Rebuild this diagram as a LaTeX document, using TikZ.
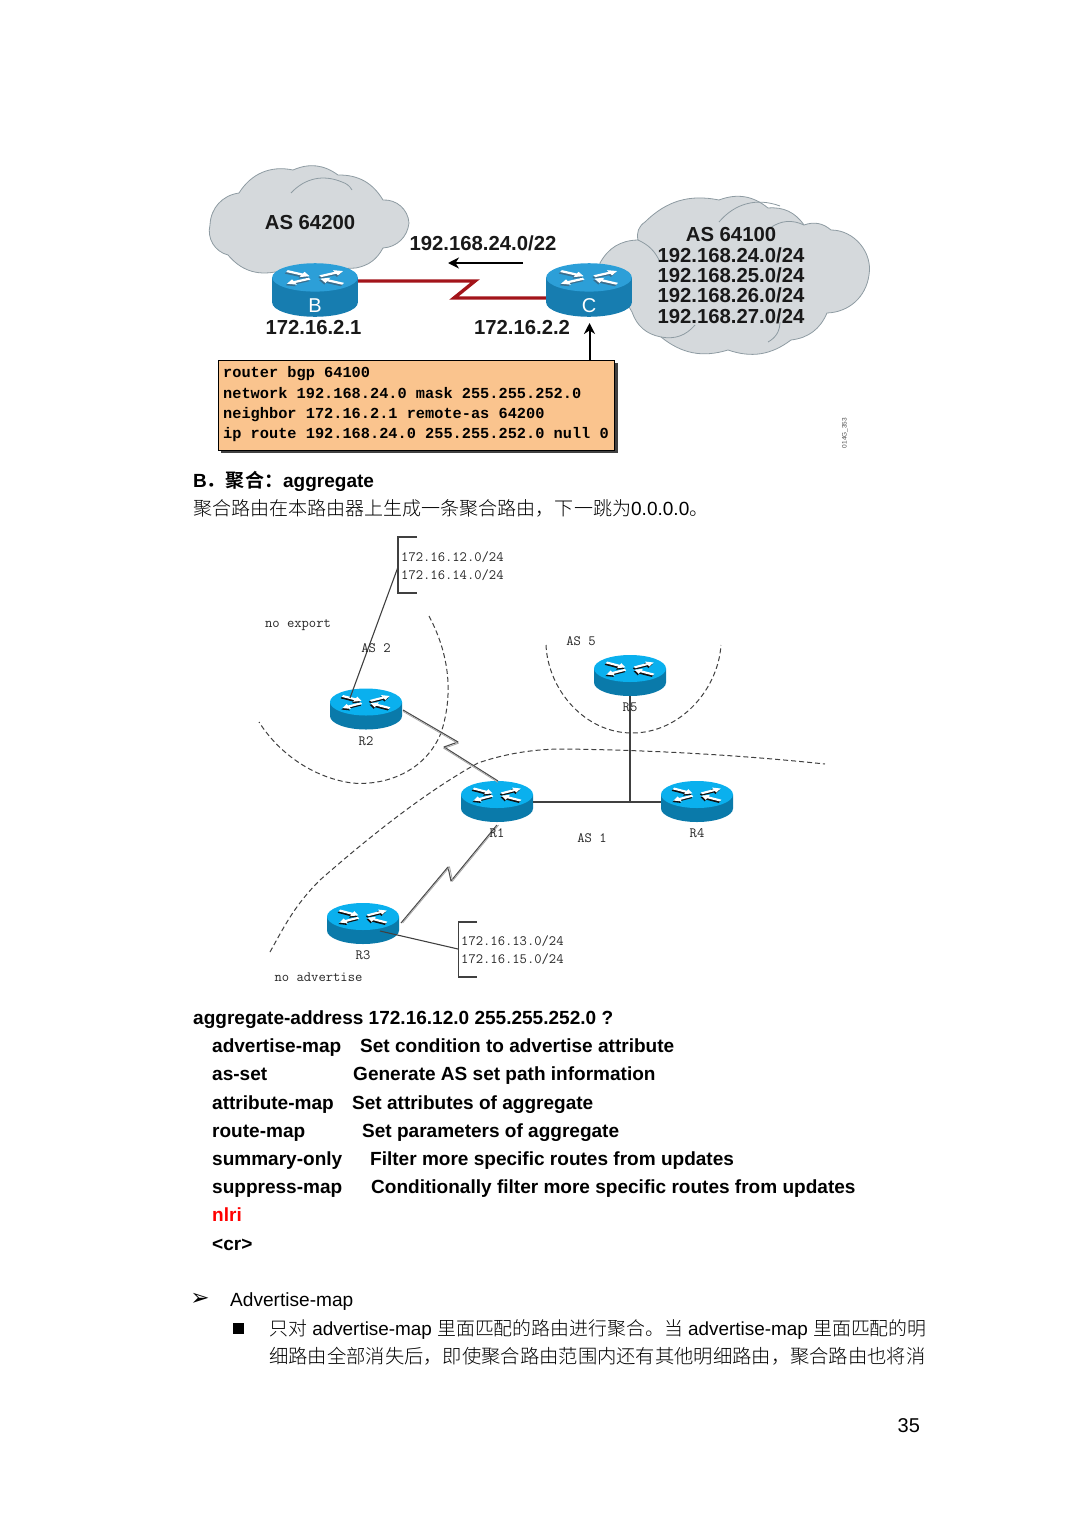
\documentclass[tikz,border=0pt]{standalone}
\usepackage{fontspec}
\setmainfont{Liberation Sans}
\setmonofont{Latin Modern Mono}
\newfontfamily\cjkfont{Noto Sans CJK SC Light}[BoldFont={Noto Sans CJK SC Bold}]
\newfontfamily\symfont{DejaVu Sans}
\newfontfamily\boxfont{Liberation Mono}
\usepackage{xcolor}
\usetikzlibrary{arrows.meta,positioning}
\newcommand\fs[1]{\fontsize{#1}{#1}\selectfont}
\newcommand\cn[1]{{\cjkfont #1}}
\definecolor{routertop}{HTML}{0AB0EE}
\definecolor{routerbody}{HTML}{0A7AAA}
\definecolor{routershade}{HTML}{101010}
\definecolor{cloudgray}{HTML}{D5D9DC}
\definecolor{cloudline}{HTML}{8E9BA2}
\definecolor{linkred}{HTML}{A3141A}
\definecolor{boxorange}{HTML}{FAC48E}
\tikzset{
pics/routerpic/.style={code={
\fill[routerbody](-36,-#1/2)--(-36,#1/2)arc[start angle=180,end angle=0,x radius=36,y radius=13.5]--(36,-#1/2)--cycle;
\fill[routertop](0,-#1/2)ellipse[x radius=36,y radius=13.5];
\foreach \ang/\s in {25/5,205/5,-25/-26,155/-26}{
\fill[routershade,shift={(-1,-#1/2+1.5)},yscale=.55,rotate=\ang](\s,-1.8)--(\s+14,-1.8)--(\s+14,-5)--(\s+21,0)--(\s+14,5)--(\s+14,1.8)--(\s,1.8)--cycle;
\fill[white,shift={(0,-#1/2)},yscale=.55,rotate=\ang](\s,-1.8)--(\s+14,-1.8)--(\s+14,-5)--(\s+21,0)--(\s+14,5)--(\s+14,1.8)--(\s,1.8)--cycle;}
}},
routerbox/.style={minimum width=72pt,minimum height=41pt,inner sep=0pt},
bigbox/.style={minimum width=86pt,minimum height=53pt,inner sep=0pt},
plain/.style={inner sep=0pt,anchor=base west},
boldtxt/.style={inner sep=0pt,font=\fs{20.3}\bfseries,text=black!90},
thintxt/.style={inner sep=0pt,font=\fs{14.2}\ttfamily,text=black!85},
dashline/.style={black!75,line width=1pt,dash pattern=on 5pt off 3pt},
thinline/.style={black!75,line width=1.1pt},
serial/.style={black!70,line width=1.1pt,line join=round},
cloud/.style={fill=cloudgray,draw=cloudline,line width=0.8pt},
blackarrow/.style={-{Stealth[length=11pt,width=11pt]},line width=2pt},
}
\begin{document}
\begin{tikzpicture}[x=1pt,y=-1pt,>=Stealth]
\useasboundingbox(0,0)rectangle(1080,1526);
% first figure: clouds
\draw[cloud](275,272)to[bend left=30](228,255)to[bend left=45](210,225)to[bend left=40](239,193)to[bend left=35](293,170)to[bend left=30](338,175)to[bend left=30](383,200)to[bend left=45](409,223)to[bend left=40](383,248)to[bend left=25](356,268)--cycle;
\draw[cloudline,line width=0.8pt](291,193)to[bend left=35](342,182)to[bend left=20](352,190);
\draw[cloud](625,300)to[bend left=40](600,263)to[bend left=30](638,240)to[bend left=35](645,222)to[bend left=28](719,200)to[bend left=30](768,208)to[bend left=30](804,225)to[bend left=30](831,230)to[bend left=50](869,275)to[bend left=40](827,313)to[bend left=30](791,340)to[bend left=28](728,350)to[bend left=28](661,337)to[bend left=30](632,312)--cycle;
\draw[cloudline,line width=0.8pt](638,240)to[bend left=20](660,262) (719,222)to[bend left=35](780,206) (770,228)to[bend left=30](804,225) (661,337)to[bend right=30](695,325) (768,342)to[bend right=30](780,322);
% first figure: routers
\node[bigbox](B)at(315,290){};
\node[bigbox](C)at(589,290){};
\begin{scope}
\definecolor{routertop}{HTML}{2C9FD8}
\definecolor{routerbody}{HTML}{177DB0}
\definecolor{routershade}{HTML}{3A6F8F}
\pic[xscale=1.19,yscale=1.05]at(B){routerpic=24};
\pic[xscale=1.19,yscale=1.05]at(C){routerpic=24};
\end{scope}
\node[inner sep=0pt,font=\fs{20},text=white](Blabel)at(315,306){B};
\node[inner sep=0pt,font=\fs{20},text=white](Clabel)at(589,306){C};
\coordinate(zigA)at(475,281);
\coordinate(zigB)at(454,298);
\draw[linkred,line width=3.4pt,line join=miter](B.east|-zigA)--(zigA)--(zigB)--(C.west|-zigB);
% first figure: texts
\node[boldtxt](asB)at(310,223){AS 64200};
\node[boldtxt](sumnet)at(483,243){192.168.24.0/22};
\coordinate(arrowR)at(523,263);
\coordinate(arrowL)at(448,263);
\draw[blackarrow](arrowR)--(arrowL);
\node[boldtxt](ipB)at(313.5,328){172.16.2.1};
\node[boldtxt](ipC)at(522,328){172.16.2.2};
\node[boldtxt](asC)at(731,235){AS 64100};
\node[boldtxt](netA)at(731,255){192.168.24.0/24};
\node[boldtxt](netB)at(731,275){192.168.25.0/24};
\node[boldtxt](netC)at(731,295){192.168.26.0/24};
\node[boldtxt](netD)at(731,316){192.168.27.0/24};
% first figure: config box
\fill[black!75](221,363)rectangle(618,453);
\node[draw=black,fill=boxorange,line width=0.7pt,inner sep=0pt,minimum width=396pt,minimum height=90pt,anchor=north west](confbox)at(218,360){};
\node[plain,font=\fs{15.3}\boxfont\bfseries](conf1)at(223,377){router bgp 64100};
\node[plain,font=\fs{15.3}\boxfont\bfseries](conf2)at(223,398){network 192.168.24.0 mask 255.255.252.0};
\node[plain,font=\fs{15.3}\boxfont\bfseries](conf3)at(223,418){neighbor 172.16.2.1 remote-as 64200};
\node[plain,font=\fs{15.3}\boxfont\bfseries](conf4)at(223,438){ip route 192.168.24.0 255.255.252.0 null 0};
\coordinate(arrowC)at(589.5,323);
\draw[blackarrow](confbox.north-|arrowC)--(arrowC);
\node[inner sep=0pt,font=\fs{6.5},text=black!70,rotate=90](figid)at(845,433){014G\_353};
% heading
\node[plain,font=\fs{19.03}\bfseries](headB)at(193,487){B\cn{．聚合：}aggregate};
\node[plain,font=\fs{19.04}](headtxt)at(193,515){\cn{聚合路由在本路由器上生成一条聚合路由，下一跳为}0.0.0.0\cn{。}};
% second figure: dashed lines
\draw[dashline](429,616)..controls(447,650)and(455,690)..(441,733)..controls(425,772)and(385,786)..(352,783)..controls(315,778)and(280,755)..(259,722);
\draw[dashline](546,645)..controls(548,690)and(585,733)..(632,733)..controls(680,733)and(718,690)..(721,645);
\draw[dashline](270,952)..controls(285,925)and(295,905)..(320,880)..controls(360,845)and(420,795)..(478,763)..controls(510,752)and(540,749)..(563,749)..controls(650,750)and(740,755)..(825,764);
% second figure: routers
\node[routerbox](R2)at(366,709){};
\node[routerbox](R5)at(630,675.5){};
\node[routerbox](R1)at(497,801.5){};
\node[routerbox](R4)at(697,801.5){};
\node[routerbox](R3)at(363,923.5){};
\foreach \r in {R1,R2,R3,R4,R5}{\pic at(\r){routerpic=14};}
% second figure: links
\coordinate(joinR5)at(630,802);
\draw[thinline](R1.east|-joinR5)--(R4.west|-joinR5);
\draw[thinline](R5.south)--(joinR5);
\coordinate(stemA)at(350,698);
\coordinate(brA)at(398,567);
\coordinate(stemB)at(380,931);
\coordinate(brB)at(458,949);
\draw[thinline](stemA)--(brA);
\draw[thinline](stemB)--(brB);
\draw[thinline](417,537)--(398,537)--(398,593)--(417,593);
\draw[thinline](477,922)--(458.5,922)--(458.5,977)--(477,977);
\coordinate(ztA)at(403,710);
\coordinate(ztB)at(458,742);
\coordinate(ztC)at(444,747);
\coordinate(ztD)at(498,781);
\draw[serial](ztA)--(ztB)--(ztC)--(ztD);
\draw[black!35,line width=0.8pt]([yshift=-1.4pt]ztA)--([yshift=-1.4pt]ztB)--([yshift=-1.4pt]ztC)--([yshift=-1.4pt]ztD);
\coordinate(zuA)at(401,923);
\coordinate(zuB)at(448,867);
\coordinate(zuC)at(451,881);
\coordinate(zuD)at(497,825);
\draw[serial](zuA)--(zuB)--(zuC)--(zuD);
\draw[black!35,line width=0.8pt]([xshift=1.6pt]zuA)--([xshift=1.6pt]zuB)--([xshift=1.6pt]zuC)--([xshift=1.6pt]zuD);
% second figure: labels
\node[thintxt,anchor=west](netE)at(401,557){172.16.12.0/24};
\node[thintxt,anchor=west](netF)at(401,575){172.16.14.0/24};
\node[thintxt,anchor=west](netG)at(461,941){172.16.13.0/24};
\node[thintxt,anchor=west](netH)at(461,959){172.16.15.0/24};
\node[thintxt](noexp)at(298,625){no export};
\node[thintxt](noadv)at(318.5,977){no advertise};
\node[thintxt](as2)at(376,648){AS 2};
\node[thintxt](as5)at(581,641){AS 5};
\node[thintxt](as1)at(592,838){AS 1};
\node[thintxt](labR2)at(366,741){R2};
\node[thintxt](labR5)at(630,707){R5};
\node[thintxt](labR1)at(497,833){R1};
\node[thintxt](labR4)at(697,833){R4};
\node[thintxt](labR3)at(363,955){R3};
% command list
\node[plain,font=\fs{19.03}\bfseries](cmd)at(193,1024){aggregate-address 172.16.12.0 255.255.252.0 ?};
\foreach \y/\a/\xb/\b in {1052/advertise-map/360/Set condition to advertise attribute,
1080/as-set/353/Generate AS set path information,
1109/attribute-map/352/Set attributes of aggregate,
1137/route-map/362/Set parameters of aggregate,
1165/summary-only/370/Filter more specific routes from updates,
1193/suppress-map/371/Conditionally filter more specific routes from updates}{
\node[plain,font=\fs{19.03}\bfseries](opt\y)at(212,\y){\a};
\node[plain,font=\fs{19.03}\bfseries](desc\y)at(\xb,\y){\b};
}
\node[plain,font=\fs{19.03}\bfseries,text=red](nlri)at(212,1221){nlri};
\node[plain,font=\fs{19.03}\bfseries](cr)at(212,1250){<cr>};
% bullets
\node[inner sep=0pt,font=\fs{23}\symfont](arrowbul)at(200,1299.5){➢};
\node[plain,font=\fs{19.1}](advmap)at(230,1306){Advertise-map};
\node[inner sep=0pt,fill=black,minimum size=11pt](sqbul)at(238,1328){};
\node[plain,font=\fs{18.9}](line1)at(269,1335){\cn{只对} advertise-map \cn{里面匹配的路由进行聚合。当} advertise-map \cn{里面匹配的明}};
\node[plain,font=\fs{19.3}](line2)at(269,1363){\cn{细路由全部消失后，即使聚合路由范围内还有其他明细路由，聚合路由也将消}};
\node[plain,font=\fs{20}](pagenum)at(897.5,1432){35};
\end{tikzpicture}
\end{document}
